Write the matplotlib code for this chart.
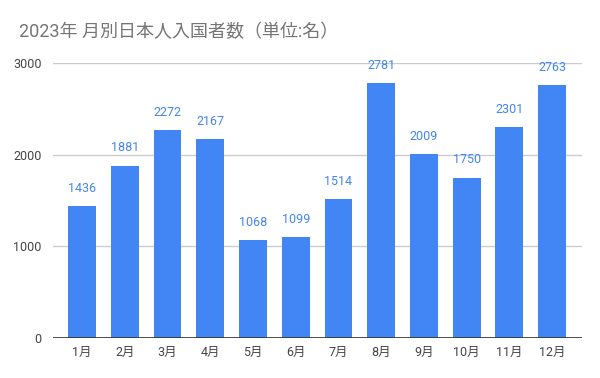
import matplotlib
matplotlib.use('Agg')
import matplotlib.pyplot as plt

months = ['1月', '2月', '3月', '4月', '5月', '6月', '7月', '8月', '9月', '10月', '11月', '12月']
visitors = [1436, 1881, 2272, 2167, 1068, 1099, 1514, 2781, 2009, 1750, 2301, 2763]
yticks = [0, 1000, 2000, 3000]

plt.rcParams['font.family'] = ['Roboto', 'Noto Sans CJK JP', 'DejaVu Sans']

fig = plt.figure(figsize=(6, 3.78), dpi=100)
ax = fig.add_axes([0.0883, 0.1058, 0.8817, 0.7275])

x = range(len(months))
bars = ax.bar(x, visitors, width=0.65, color='#4285f4', zorder=3)
for b, v in zip(bars, visitors):
    ax.annotate(str(v), (b.get_x() + b.get_width() / 2, v), xytext=(0, 8),
                textcoords='offset points', ha='center', va='bottom',
                fontsize=9, color='#4285f4')

ax.set_xlim(-0.68, 11.7)
ax.set_ylim(0, 3000)
ax.set_yticks(yticks)
ax.set_yticklabels([str(t) for t in yticks])
ax.set_xticks(list(x))
ax.set_xticklabels(months)
ax.grid(axis='y', color='#cccccc', linewidth=1, zorder=0)
ax.axhline(0, color='#333333', linewidth=1.2, zorder=4)
for s in ax.spines.values():
    s.set_visible(False)
ax.tick_params(length=0, labelsize=9, colors='#444444', pad=6)
ax.tick_params(axis='y', pad=8)

fig.text(0.032, 0.915, '2023年 月別日本人入国者数（単位:名）', fontsize=13,
         color='#757575', va='center', ha='left')

fig.savefig('out.png', dpi=100)
